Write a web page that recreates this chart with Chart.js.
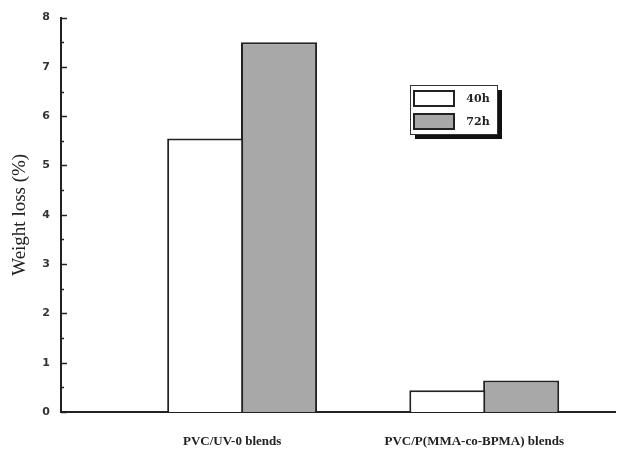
<!DOCTYPE html>
<html>
<head>
<meta charset="utf-8">
<script src="https://cdn.jsdelivr.net/npm/chart.js@4.4.1/dist/chart.umd.min.js"></script>
<style>
  body { margin: 0; background: #fff; }
  canvas { display: block; }
</style>
</head>
<body>
<canvas id="myChart" width="619" height="457"></canvas>
<script>
// data
const categories = ['PVC/UV-0 blends', 'PVC/P(MMA-co-BPMA) blends'];
const seriesNames = ['40h', '72h'];
const loss40h = [5.55, 0.44];
const loss72h = [7.5, 0.64];
const yTicks = [0, 1, 2, 3, 4, 5, 6, 7, 8];

// little inward tick marks on the y axis (major + minor)
const innerTicks = {
    id: 'innerTicks',
    afterDraw(chart) {
        const ctx = chart.ctx;
        const y = chart.scales.y;
        const left = chart.chartArea.left;
        ctx.save();
        ctx.strokeStyle = '#222';
        ctx.lineWidth = 1.5;
        y.ticks.forEach(function (t) {
            const py = Math.round(y.getPixelForValue(t.value)) + 0.5;
            const len = Number.isInteger(t.value) ? 6 : 3;
            ctx.beginPath();
            ctx.moveTo(left, py);
            ctx.lineTo(left + len, py);
            ctx.stroke();
        });
        ctx.restore();
    }
};

// boxed legend with drop shadow, inside the plot
const boxLegend = {
    id: 'boxLegend',
    afterDraw(chart) {
        const ctx = chart.ctx;
        const bx = 410, by = 85, bw = 87, bh = 49;
        ctx.save();
        ctx.fillStyle = '#111';
        ctx.fillRect(bx + 5, by + 5, bw, bh);
        ctx.fillStyle = '#fff';
        ctx.fillRect(bx, by, bw, bh);
        ctx.strokeStyle = '#333';
        ctx.lineWidth = 1;
        ctx.strokeRect(bx + 0.5, by + 0.5, bw, bh);
        ctx.font = 'bold 11px "DejaVu Serif"';
        ctx.textBaseline = 'middle';
        ctx.textAlign = 'center';
        chart.data.datasets.forEach(function (ds, i) {
            const sy = by + 5 + i * 23;
            ctx.fillStyle = ds.backgroundColor;
            ctx.fillRect(bx + 3, sy, 42, 17);
            ctx.strokeStyle = '#222';
            ctx.lineWidth = 2;
            ctx.strokeRect(bx + 4, sy + 1, 40, 15);
            ctx.fillStyle = '#222';
            ctx.fillText(ds.label, bx + 68, sy + 9);
        });
        ctx.restore();
    }
};

const data = {
    datasets: [{
        label: seriesNames[0],
        data: categories.map((c, i) => ({ x: i + 1, y: loss40h[i] })),
        backgroundColor: '#ffffff',
        borderColor: '#222',
        borderWidth: 2
    }, {
        label: seriesNames[1],
        data: categories.map((c, i) => ({ x: i + 1, y: loss72h[i] })),
        backgroundColor: '#a8a8a8',
        borderColor: '#222',
        borderWidth: 2
    }]
};

const config = {
    type: 'bar',
    data: data,
    options: {
        responsive: false,
        animation: false,
        categoryPercentage: 0.61,
        barPercentage: 1.03,
        layout: { padding: { left: 0, top: 15, right: 4, bottom: 0 } },
        plugins: {
            legend: { display: false },
            tooltip: { enabled: false }
        },
        scales: {
            x: {
                type: 'linear',
                offset: false,
                min: 0.252,
                max: 2.54,
                afterBuildTicks: function (s) {
                    s.ticks = categories.map((c, i) => ({ value: i + 1 }));
                },
                afterFit: function (s) { s.height = 45; },
                grid: { display: false, drawTicks: false, offset: false },
                border: { display: true, color: '#222', width: 2 },
                ticks: {
                    padding: 22,
                    labelOffset: -10,
                    color: '#222',
                    font: { family: '"Liberation Serif"', size: 13, weight: 'bold' },
                    callback: function (v) { return categories[v - 1] || ''; }
                }
            },
            y: {
                min: 0,
                max: 8,
                afterBuildTicks: function (s) {
                    const t = [];
                    yTicks.forEach(function (v) {
                        t.push({ value: v });
                        if (v < 8) t.push({ value: v + 0.5 });
                    });
                    s.ticks = t;
                },
                afterFit: function (s) { s.width = 61; },
                grid: { display: false, drawTicks: false },
                border: { display: true, color: '#222', width: 2 },
                ticks: {
                    padding: 11,
                    color: '#333',
                    font: { family: '"DejaVu Sans"', size: 11, weight: 'bold' },
                    callback: function (v) { return Number.isInteger(v) ? v : ''; }
                },
                title: {
                    display: true,
                    text: 'Weight loss (%)',
                    color: '#222',
                    font: { family: '"Liberation Serif"', size: 19 },
                    padding: { top: 9, bottom: 6 }
                }
            }
        }
    },
    plugins: [innerTicks, boxLegend]
};

const myChart = new Chart(document.getElementById('myChart'), config);
</script>
</body>
</html>
